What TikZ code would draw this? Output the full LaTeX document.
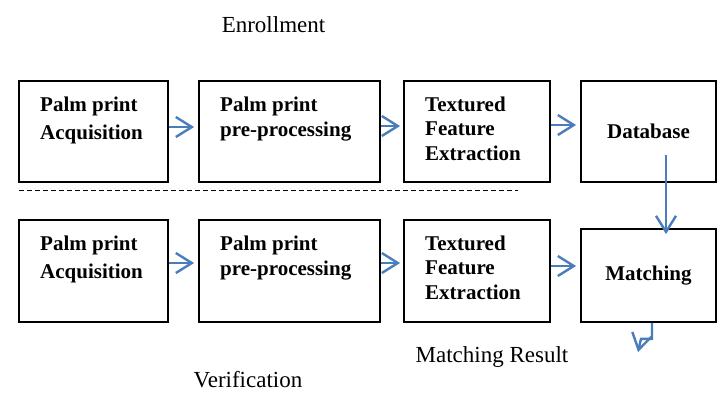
\documentclass[tikz,border=0pt]{standalone}
\usepackage{fontspec}
\setmainfont{Liberation Serif}
\usepackage{tikz}
\usetikzlibrary{arrows.meta,calc}
\definecolor{flowblue}{RGB}{74,126,187}

\begin{document}
\begin{tikzpicture}[x=1pt, y=-1pt,
  box/.style={draw, line width=1.8pt, rectangle, inner sep=0pt},
  boxtext/.style={font=\fontsize{21}{28}\selectfont\bfseries, align=left, anchor=base west, inner sep=0pt},
  plain/.style={font=\fontsize{23}{27}\selectfont, anchor=base, inner sep=0pt},
  flow/.style={draw=flowblue, line width=2.4pt, -{Straight Barb[length=16pt, width=20pt, line width=2.4pt]}}
]

\useasboundingbox (0,0) rectangle (723,392);

% Enrollment row
\node[box, minimum width=149, minimum height=101] (acqE) at (93.5,131.5) {};
\node[box, minimum width=181, minimum height=101] (preE) at (289.5,131.5) {};
\node[box, minimum width=146, minimum height=101] (featE) at (477,131.5) {};
\node[box, minimum width=135, minimum height=101, font=\fontsize{21}{25}\selectfont\bfseries] (dbase) at (648.5,131.5) {Database};

% text blocks (placed at the baseline of their last line)
\node[boxtext] at (40,139) {Palm print\\Acquisition};
\node[boxtext, font=\fontsize{21}{25}\selectfont\bfseries] at (220,136) {Palm print\\pre-processing};
\node[boxtext, font=\fontsize{21}{24.5}\selectfont\bfseries] at (425,160) {Textured\\Feature\\Extraction};

% Verification row
\node[box, minimum width=149, minimum height=102] (acqV) at (93.5,271) {};
\node[box, minimum width=181, minimum height=102] (preV) at (289.5,271) {};
\node[box, minimum width=146, minimum height=102] (featV) at (477,271) {};
\node[box, minimum width=135, minimum height=93, font=\fontsize{21}{25}\selectfont\bfseries] (match) at (648.5,275.5) {Matching};

\node[boxtext] at (40,278) {Palm print\\Acquisition};
\node[boxtext, font=\fontsize{21}{25}\selectfont\bfseries] at (220,275) {Palm print\\pre-processing};
\node[boxtext, font=\fontsize{21}{24.5}\selectfont\bfseries] at (425,299) {Textured\\Feature\\Extraction};

% Separator
\draw[line width=1.3pt, dash pattern=on 5pt off 3pt] (19,190.7) -- (518,190.7);

% Arrows
\draw[flow, shorten >=4pt] ([yshift=4.5pt]acqE.east) -- ([yshift=4.5pt]acqE.east -| preE.west);
\draw[flow, shorten >=3pt] ([yshift=5.5pt]preE.east) -- ([yshift=5.5pt]preE.east -| featE.west);
\draw[flow, shorten >=4pt] ([yshift=6.5pt]featE.east) -- ([yshift=6.5pt]featE.east -| dbase.west);

\draw[flow, shorten >=4pt] ([yshift=8pt]acqV.east) -- ([yshift=8pt]acqV.east -| preV.west);
\draw[flow, shorten >=3pt] ([yshift=8pt]preV.east) -- ([yshift=8pt]preV.east -| featV.west);
\draw[flow, shorten >=4pt] ([yshift=5pt]featV.east) -- ([yshift=9.5pt]match.west);

\draw[flow] ([xshift=17.5pt, yshift=28pt]dbase.south) -- ([xshift=17.5pt, yshift=-6pt]match.north);

% Result
\coordinate (res) at (638,352);
\draw[flow] ([xshift=3.5pt]match.south) -- ++(0,16) -- ++(-11,0) -- (res);

% Labels
\node[plain] (enrol) at (273.5,32) {Enrollment};
\node[plain] (result) at (492,362) {Matching Result};
\node[plain] (verif) at (248,387) {Verification};

\end{tikzpicture}
\end{document}
